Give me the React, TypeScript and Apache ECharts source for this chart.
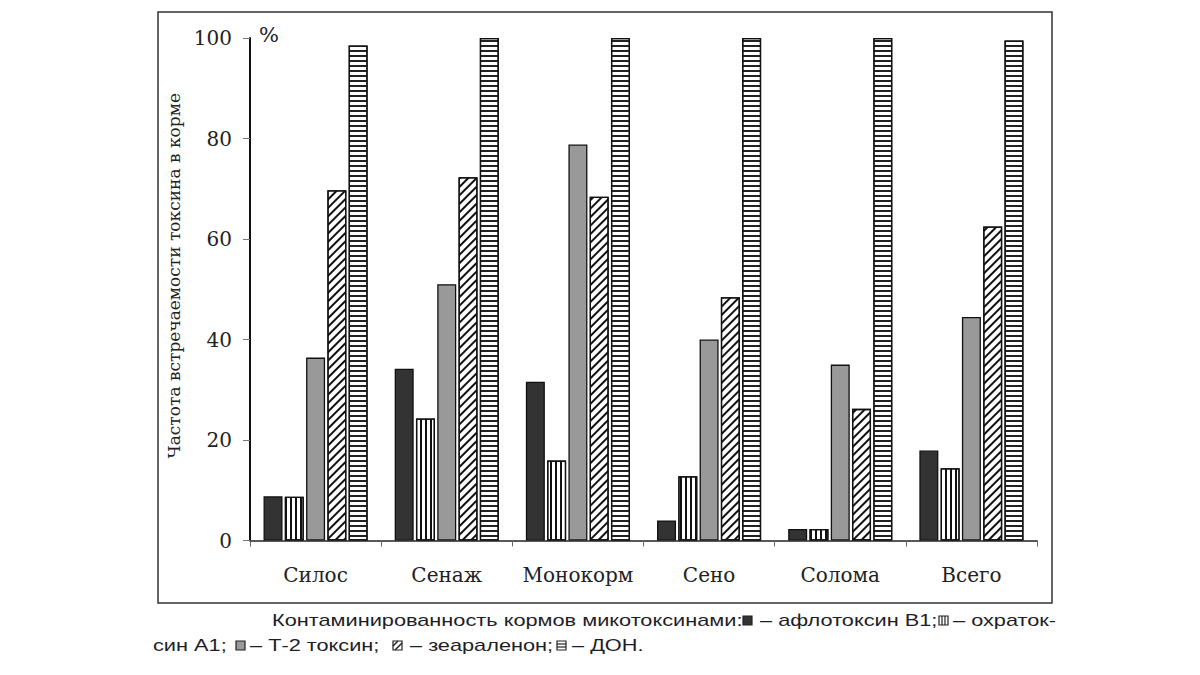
import React, { useEffect, useRef } from "react";
import * as echarts from "echarts";

const categories = ["Силос", "Сенаж", "Монокорм", "Сено", "Солома", "Всего"];
const aflatoxinB1 = [8.8, 34.2, 31.6, 4.0, 2.3, 17.9];
const ochratoxinA1 = [8.7, 24.3, 15.9, 12.8, 2.3, 14.4];
const t2toxin = [36.4, 51.0, 78.8, 40.0, 35.0, 44.5];
const zearalenone = [69.7, 72.3, 68.4, 48.4, 26.2, 62.5];
const don = [98.5, 100, 100, 100, 100, 99.5];
const yTicks = { min: 0, max: 100, interval: 20 };

const seriesNames = ["афлотоксин В1", "охратоксин А1", "Т-2 токсин", "зеараленон", "ДОН"];

const SERIF = "'DejaVu Serif', 'Liberation Serif', serif";
const SANS = "'Liberation Sans', Arial, sans-serif";

export default function App() {
  const ref = useRef<HTMLDivElement>(null);
  useEffect(() => {
    if (!ref.current) return;
    const chart = echarts.init(ref.current, null, { renderer: "svg" });
    const border = { borderColor: "#111", borderWidth: 1.3 };
    const base = {
      type: "bar" as const,
      barWidth: 19,
      barGap: "12%",
    };
    const capText = (x: number, y: number, text: string) => ({
      type: "text",
      x,
      y,
      scaleX: 1.36,
      style: {
        text,
        font: `16px ${SANS}`,
        fill: "#1e1e26",
        textAlign: "left",
        textVerticalAlign: "middle",
      },
    });
    const icon = (x: number, y: number, kind: number) => {
      const s = 9;
      const children: any[] = [
        {
          type: "rect",
          shape: { x: 0, y: 0, width: s, height: s },
          style: {
            fill: kind === 0 ? "#333" : kind === 2 ? "#999" : "#fff",
            stroke: "#222",
            lineWidth: 1.2,
          },
        },
      ];
      if (kind === 1) {
        [3, 6].forEach((dx) =>
          children.push({ type: "line", shape: { x1: dx, y1: 0, x2: dx, y2: s }, style: { stroke: "#222", lineWidth: 1.2 } })
        );
      }
      if (kind === 3) {
        children.push({ type: "line", shape: { x1: 2, y1: s, x2: s, y2: 2 }, style: { stroke: "#222", lineWidth: 1.4 } });
        children.push({ type: "line", shape: { x1: 0, y1: 5, x2: 5, y2: 0 }, style: { stroke: "#222", lineWidth: 1.4 } });
      }
      if (kind === 4) {
        [3, 6].forEach((dy) =>
          children.push({ type: "line", shape: { x1: 0, y1: dy, x2: s, y2: dy }, style: { stroke: "#222", lineWidth: 1.2 } })
        );
      }
      return { type: "group", x, y, children };
    };

    chart.setOption({
      animation: false,
      backgroundColor: "#fff",
      grid: { left: 250, right: 163, top: 38, bottom: 134.5, containLabel: false },
      xAxis: {
        type: "category",
        data: categories,
        axisLine: { lineStyle: { color: "#222", width: 1.5 } },
        axisTick: { show: true, length: 6, lineStyle: { color: "#666", width: 1 } },
        axisLabel: { interval: 0, margin: 24, fontFamily: SERIF, fontSize: 20, color: "#222" },
        splitLine: { show: false },
      },
      yAxis: {
        type: "value",
        min: yTicks.min,
        max: yTicks.max,
        interval: yTicks.interval,
        name: "Частота встречаемости токсина в корме",
        nameLocation: "middle",
        nameGap: 62,
        nameTextStyle: { fontFamily: SERIF, fontSize: 17, color: "#222", padding: [0, 0, 0, 27] },
        axisLine: { show: true, lineStyle: { color: "#111", width: 2 } },
        axisTick: { show: true, length: 7, lineStyle: { color: "#777", width: 1 } },
        axisLabel: { margin: 18, fontFamily: SERIF, fontSize: 20, color: "#222" },
        splitLine: { show: false },
      },
      series: [
        {
          ...base,
          name: seriesNames[0],
          data: aflatoxinB1,
          itemStyle: { color: "#333", ...border },
        },
        {
          ...base,
          name: seriesNames[1],
          data: ochratoxinA1,
          itemStyle: {
            color: "#fff",
            ...border,
            decal: { symbol: "rect", symbolSize: 1, color: "#111", dashArrayX: [2, 3], dashArrayY: [4, 0], rotation: 0 },
          },
        },
        {
          ...base,
          name: seriesNames[2],
          data: t2toxin,
          itemStyle: { color: "#999", ...border },
        },
        {
          ...base,
          name: seriesNames[3],
          data: zearalenone,
          itemStyle: {
            color: "#fff",
            ...border,
            decal: { symbol: "rect", symbolSize: 1, color: "#111", dashArrayX: [4, 0], dashArrayY: [1.8, 3.2], rotation: -Math.PI / 4 },
          },
        },
        {
          ...base,
          name: seriesNames[4],
          data: don,
          itemStyle: {
            color: "#fff",
            ...border,
            decal: { symbol: "rect", symbolSize: 1, color: "#222", dashArrayX: [4, 0], dashArrayY: [1.6, 3], rotation: 0 },
          },
        },
      ],
      graphic: [
        {
          type: "rect",
          shape: { x: 158, y: 12, width: 894, height: 591 },
          style: { fill: "none", stroke: "#333", lineWidth: 1.5 },
          silent: true,
        },
        {
          type: "text",
          x: 259,
          y: 35,
          style: { text: "%", font: `21px ${SERIF}`, fill: "#222", textAlign: "left", textVerticalAlign: "middle" },
        },
        capText(272, 621, "Контаминированность кормов микотоксинами:"),
        icon(743, 616, 0),
        capText(760, 621, "– афлотоксин В1;"),
        icon(939, 616, 1),
        capText(953, 621, "– охраток-"),
        capText(153, 646, "син А1;"),
        icon(236, 641, 2),
        capText(250, 646, "– Т-2 токсин;"),
        icon(393, 641, 3),
        capText(410, 646, "– зеараленон;"),
        icon(557, 641, 4),
        capText(572, 646, "– ДОН."),
      ],
    });
    return () => chart.dispose();
  }, []);
  return <div ref={ref} style={{ position: "fixed", left: 0, top: 0, width: 1200, height: 675 }} />;
}
